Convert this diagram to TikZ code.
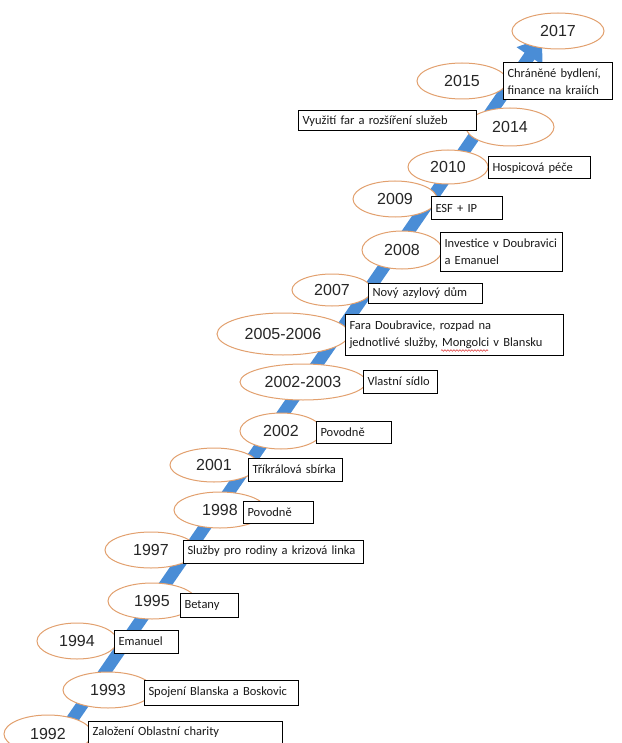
\documentclass[tikz,border=0pt]{standalone}
\usepackage{fontspec}
\newfontfamily\yearfont{Liberation Sans}
\newfontfamily\boxfont{Carlito}
\usetikzlibrary{shapes.geometric,arrows.meta,calc,decorations.pathmorphing}
\definecolor{lineblue}{RGB}{74,141,214}
\definecolor{ovalline}{RGB}{226,160,110}
\definecolor{spellred}{RGB}{225,60,60}
\begin{document}
\begin{tikzpicture}[x=1pt,y=-1pt,
	yearoval/.style={ellipse,draw=ovalline,line width=1pt,fill=white,inner sep=0pt,text=black!85,font=\yearfont\fontsize{16}{18}\selectfont},
	eventbox/.style={draw=black,line width=1pt,fill=white,anchor=west,align=left,inner xsep=4pt,inner ysep=0pt,text width=#1,text=black!90,font=\boxfont\fontsize{12.5}{16.5}\selectfont},
	timeline/.style={draw=lineblue,line width=12pt,-{Triangle[width=30pt,length=22pt]}},
	spellmark/.style={draw=spellred,line width=0.6pt,decorate,decoration={snake,amplitude=0.8pt,segment length=3pt}}]
	\useasboundingbox (0,0) rectangle (621,743);
	% time axis
	\coordinate (tail) at (58,740);
	\coordinate (tip) at (542,38);
	\draw[timeline] (tail) -- (tip);
	% 1992
	\node[yearoval,minimum width=88pt,minimum height=38pt] (y1992) at (48,734) {1992};
	\node[eventbox=186pt,minimum height=22pt] (e1992) at (88,732) {Založení Oblastní charity};
	% 1993
	\node[yearoval,minimum width=90pt,minimum height=36pt] (y1993) at (108,690) {1993};
	\node[eventbox=146pt,minimum height=25pt] (e1993) at (144,692.5) {Spojení Blanska a Boskovic};
	% 1994
	\node[yearoval,minimum width=80pt,minimum height=36pt] (y1994) at (77,641) {1994};
	\node[eventbox=56pt,minimum height=23pt] (e1994) at (114,641.5) {Emanuel};
	% 1995
	\node[yearoval,minimum width=88pt,minimum height=36pt] (y1995) at (152,601) {1995};
	\node[eventbox=50pt,minimum height=24pt] (e1995) at (180,605) {Betany};
	% 1997
	\node[yearoval,minimum width=92pt,minimum height=36pt] (y1997) at (151,550) {1997};
	\node[eventbox=172pt,minimum height=23pt] (e1997) at (183,551.5) {Služby pro rodiny a krizová linka};
	% 1998
	\node[yearoval,minimum width=92pt,minimum height=36pt] (y1998) at (220,510) {1998};
	\node[eventbox=62pt,minimum height=22pt] (e1998) at (243,512) {Povodně};
	% 2001
	\node[yearoval,minimum width=88pt,minimum height=34pt] (y2001) at (214,465) {2001};
	\node[eventbox=86pt,minimum height=23pt] (e2001) at (248,469.5) {Tříkrálová sbírka};
	% 2002
	\node[yearoval,minimum width=82pt,minimum height=36pt] (y2002) at (281,431) {2002};
	\node[eventbox=67pt,minimum height=22pt] (e2002) at (316,432) {Povodně};
	% 2002-2003
	\node[yearoval,minimum width=126pt,minimum height=36pt] (y2003) at (303,382) {2002-2003};
	\node[eventbox=66pt,minimum height=23pt] (e2003) at (363,381.5) {Vlastní sídlo};
	% 2005-2006
	\node[yearoval,minimum width=132pt,minimum height=42pt] (y2006) at (283,334) {2005-2006};
	\node[eventbox=210pt,minimum height=41pt] (e2006) at (345,334.5) {Fara Doubravice, rozpad na\\jednotlivé služby, Mongolci v Blansku};
	\draw[spellmark] ($(e2006.south west)+(96,-5)$) -- ++(47,0);
	% 2007
	\node[yearoval,minimum width=80pt,minimum height=32pt] (y2007) at (332,290) {2007};
	\node[eventbox=106pt,minimum height=20pt] (e2007) at (368,293) {Nový azylový dům};
	% 2008
	\node[yearoval,minimum width=80pt,minimum height=38pt] (y2008) at (402,250) {2008};
	\node[eventbox=114pt,minimum height=39pt] (e2008) at (440,251.5) {Investice v Doubravici\\a Emanuel};
	% 2009
	\node[yearoval,minimum width=84pt,minimum height=36pt] (y2009) at (395,199) {2009};
	\node[eventbox=63pt,minimum height=22pt] (e2009) at (431,208) {ESF + IP};
	% 2010
	\node[yearoval,minimum width=80pt,minimum height=34pt] (y2010) at (448,167) {2010};
	\node[eventbox=94pt,minimum height=22pt] (e2010) at (488,168) {Hospicová péče};
	% 2014
	\node[yearoval,minimum width=88pt,minimum height=38pt] (y2014) at (510,127) {2014};
	\node[eventbox=170pt,minimum height=20pt] (e2014) at (298,121) {Využití far a rozšíření služeb};
	% 2015
	\node[yearoval,minimum width=90pt,minimum height=36pt] (y2015) at (462,81) {2015};
	\node[eventbox=101pt,minimum height=37pt] (e2015) at (503,81.5) {Chráněné bydlení,\\finance na kraiích};
	% 2017
	\node[yearoval,minimum width=92pt,minimum height=36pt] (y2017) at (558,31) {2017};
\end{tikzpicture}
\end{document}
